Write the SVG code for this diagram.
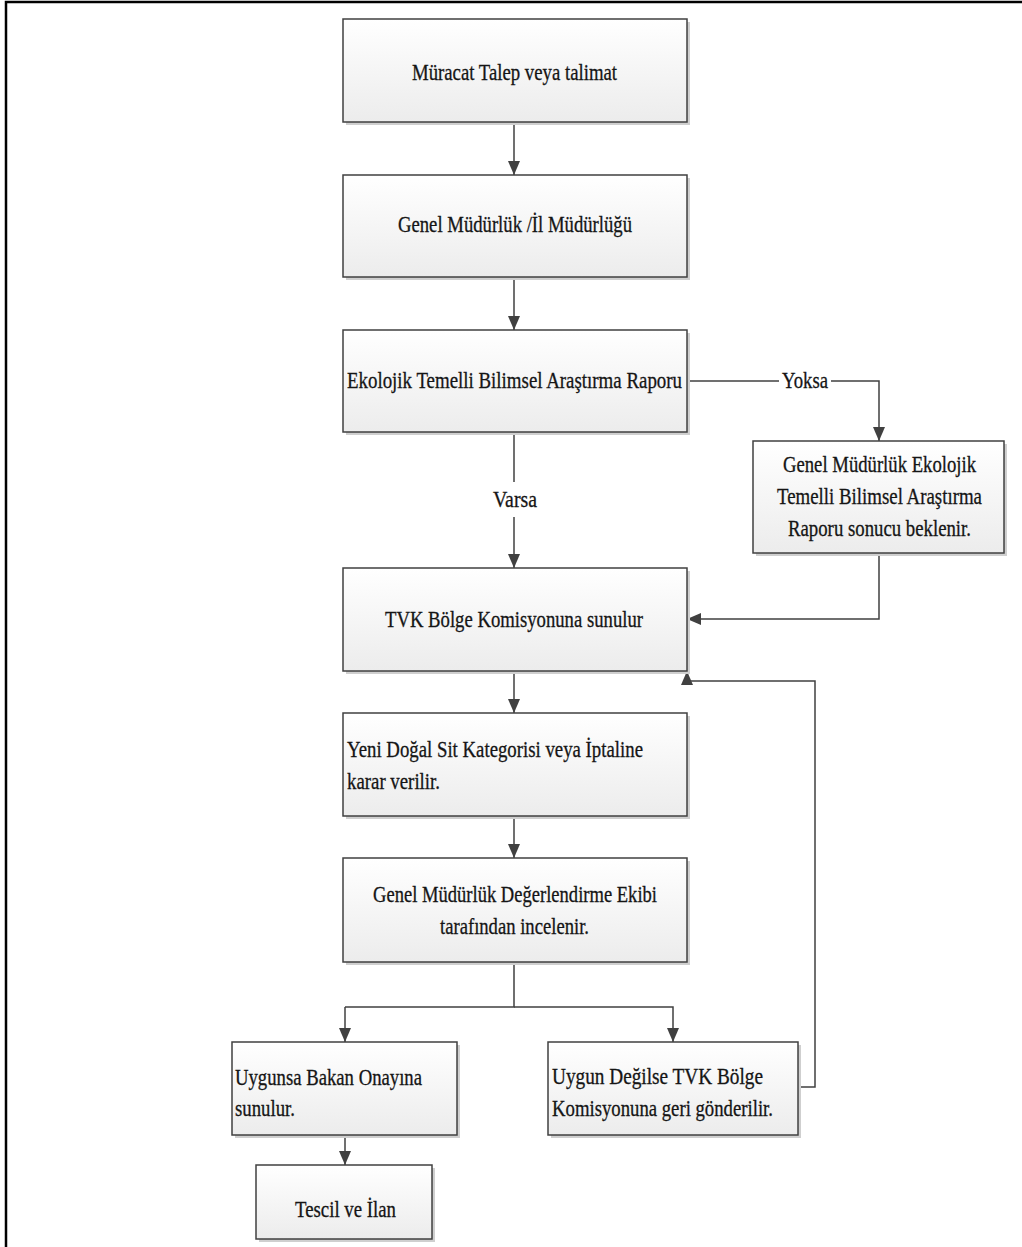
<svg xmlns="http://www.w3.org/2000/svg" width="1022" height="1247" viewBox="0 0 1022 1247">
<style>
.sh{fill:#cfcfcf;}
.bx{fill:url(#g);stroke:#404040;stroke-width:1.5;}
.t{font-family:"Liberation Serif","Times New Roman",serif;font-size:23px;fill:#151515;stroke:#151515;stroke-width:0.3;}
.c{fill:none;stroke:#404040;stroke-width:1.5;}
.ca{fill:none;stroke:#404040;stroke-width:1.5;marker-end:url(#ah);}
</style>
<defs>
<linearGradient id="g" x1="0" y1="0" x2="0" y2="1">
<stop offset="0" stop-color="#ffffff"/>
<stop offset="1" stop-color="#ececec"/>
</linearGradient>
<marker id="ah" viewBox="0 0 14 12" refX="14" refY="6" markerWidth="14" markerHeight="12" markerUnits="userSpaceOnUse" orient="auto">
<path d="M0,0 L14,6 L0,12 z" fill="#404040"/>
</marker>
</defs>
<rect width="1022" height="1247" fill="#ffffff"/>
<path d="M6,1247 V2 H1022" fill="none" stroke="#000" stroke-width="2.5"/>

<g id="connectors">
<path class="ca" d="M514,122 V175"/>
<path class="ca" d="M514,277 V330"/>
<path class="c" d="M687,381 H779"/>
<path class="ca" d="M831,381 H879 V441"/>
<path class="c" d="M514,432 V482"/>
<path class="ca" d="M514,517 V568"/>
<path class="ca" d="M879,553 V619 H687"/>
<path class="ca" d="M514,671 V713"/>
<path class="ca" d="M514,816 V858"/>
<path class="c" d="M514,962 V1007 H345"/>
<path class="ca" d="M345,1007 V1042"/>
<path class="ca" d="M514,1007 H673 V1042"/>
<path class="ca" d="M345,1135 V1165"/>
<path class="ca" d="M798,1087 H815 V681 H687 V671"/>
<text class="t" x="782" y="388" textLength="46" lengthAdjust="spacingAndGlyphs">Yoksa</text>
<text class="t" x="493" y="507" textLength="44" lengthAdjust="spacingAndGlyphs">Varsa</text>
</g>

<g id="n1">
<rect class="sh" x="346" y="22" width="344" height="103"/>
<rect class="bx" x="343" y="19" width="344" height="103"/>
<text class="t" x="412" y="80" textLength="205" lengthAdjust="spacingAndGlyphs">Müracat Talep veya talimat</text>
</g>
<g id="n2">
<rect class="sh" x="346" y="178" width="344" height="102"/>
<rect class="bx" x="343" y="175" width="344" height="102"/>
<text class="t" x="398" y="232" textLength="234" lengthAdjust="spacingAndGlyphs">Genel Müdürlük /İl Müdürlüğü</text>
</g>
<g id="n3">
<rect class="sh" x="346" y="333" width="344" height="102"/>
<rect class="bx" x="343" y="330" width="344" height="102"/>
<text class="t" x="347" y="388" textLength="335" lengthAdjust="spacingAndGlyphs">Ekolojik Temelli Bilimsel Araştırma Raporu</text>
</g>
<g id="n4">
<rect class="sh" x="756" y="444" width="251" height="112"/>
<rect class="bx" x="753" y="441" width="251" height="112"/>
<text class="t" x="783" y="472" textLength="193" lengthAdjust="spacingAndGlyphs">Genel Müdürlük Ekolojik</text>
<text class="t" x="777" y="504" textLength="205" lengthAdjust="spacingAndGlyphs">Temelli Bilimsel Araştırma</text>
<text class="t" x="788" y="536" textLength="183" lengthAdjust="spacingAndGlyphs">Raporu sonucu beklenir.</text>
</g>
<g id="n5">
<rect class="sh" x="346" y="571" width="344" height="103"/>
<rect class="bx" x="343" y="568" width="344" height="103"/>
<text class="t" x="385" y="627" textLength="258" lengthAdjust="spacingAndGlyphs">TVK Bölge Komisyonuna sunulur</text>
</g>
<g id="n6">
<rect class="sh" x="346" y="716" width="344" height="103"/>
<rect class="bx" x="343" y="713" width="344" height="103"/>
<text class="t" x="347" y="757" textLength="296" lengthAdjust="spacingAndGlyphs">Yeni Doğal Sit Kategorisi veya İptaline</text>
<text class="t" x="347" y="789" textLength="93" lengthAdjust="spacingAndGlyphs">karar verilir.</text>
</g>
<g id="n7">
<rect class="sh" x="346" y="861" width="344" height="104"/>
<rect class="bx" x="343" y="858" width="344" height="104"/>
<text class="t" x="373" y="902" textLength="284" lengthAdjust="spacingAndGlyphs">Genel Müdürlük Değerlendirme Ekibi</text>
<text class="t" x="440" y="934" textLength="149" lengthAdjust="spacingAndGlyphs">tarafından incelenir.</text>
</g>
<g id="n8">
<rect class="sh" x="235" y="1045" width="225" height="93"/>
<rect class="bx" x="232" y="1042" width="225" height="93"/>
<text class="t" x="235" y="1085" textLength="187" lengthAdjust="spacingAndGlyphs">Uygunsa Bakan Onayına</text>
<text class="t" x="235" y="1116" textLength="60" lengthAdjust="spacingAndGlyphs">sunulur.</text>
</g>
<g id="n9">
<rect class="sh" x="551" y="1045" width="250" height="93"/>
<rect class="bx" x="548" y="1042" width="250" height="93"/>
<text class="t" x="552" y="1084" textLength="211" lengthAdjust="spacingAndGlyphs">Uygun Değilse TVK Bölge</text>
<text class="t" x="552" y="1116" textLength="221" lengthAdjust="spacingAndGlyphs">Komisyonuna geri gönderilir.</text>
</g>
<g id="n10">
<rect class="sh" x="259" y="1168" width="176" height="74"/>
<rect class="bx" x="256" y="1165" width="176" height="74"/>
<text class="t" x="295" y="1217" textLength="101" lengthAdjust="spacingAndGlyphs">Tescil ve İlan</text>
</g>
</svg>
